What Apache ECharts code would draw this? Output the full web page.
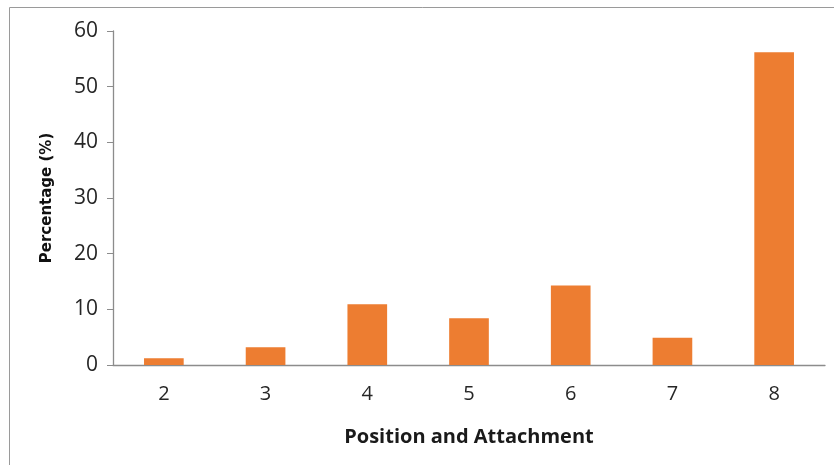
<!DOCTYPE html>
<html>
<head>
<meta charset="utf-8">
<script src="https://cdn.jsdelivr.net/npm/echarts@6/dist/echarts.min.js"></script>
<style>
html,body{margin:0;padding:0;background:#fff;}
#chart{width:834px;height:465px;}
</style>
</head>
<body>
<div id="chart"></div>
<script>
const categories = ['2', '3', '4', '5', '6', '7', '8'];
const percentages = [1.2, 3.2, 10.9, 8.4, 14.3, 4.9, 56.2];
const yMin = 0, yMax = 60, yStep = 10;
const xTitle = 'Position and Attachment';
const yTitle = 'Percentage (%)';

const chart = echarts.init(document.getElementById('chart'), null, {renderer: 'canvas'});
chart.setOption({
  backgroundColor: '#ffffff',
  animation: false,
  graphic: [{
    type: 'rect',
    shape: {x: 9.5, y: 7.5, width: 900, height: 600},
    style: {fill: 'none', stroke: '#9a9a9a', lineWidth: 1},
    silent: true
  }],
  grid: {left: 113, right: 9, top: 31, bottom: 100, containLabel: false},
  xAxis: {
    type: 'category',
    data: categories,
    name: xTitle,
    nameLocation: 'middle',
    nameGap: 62,
    nameTextStyle: {fontFamily: 'Liberation Sans Narrow, Open Sans, sans-serif', fontWeight: 'bold', fontSize: 20, color: '#1a1a1a'},
    axisLine: {lineStyle: {color: '#8c8c8c', width: 1.3}},
    axisTick: {show: false},
    axisLabel: {margin: 19, fontFamily: 'Open Sans, sans-serif', fontSize: 20, color: '#262626'}
  },
  yAxis: {
    type: 'value',
    min: yMin, max: yMax, interval: yStep,
    name: yTitle,
    nameLocation: 'middle',
    nameGap: 58,
    nameTextStyle: {fontFamily: 'DejaVu Sans, Verdana, sans-serif', fontWeight: 'bold', fontSize: 15, color: '#111'},
    axisLine: {show: true, lineStyle: {color: '#8c8c8c', width: 1.3}},
    axisTick: {show: true, length: 6, lineStyle: {color: '#8c8c8c'}},
    splitLine: {show: false},
    axisLabel: {margin: 15, fontFamily: 'Open Sans, sans-serif', fontSize: 21, color: '#262626'}
  },
  series: [{
    type: 'bar',
    data: percentages,
    barWidth: '39%',
    itemStyle: {color: '#ED7D31'}
  }]
});
</script>
</body>
</html>
